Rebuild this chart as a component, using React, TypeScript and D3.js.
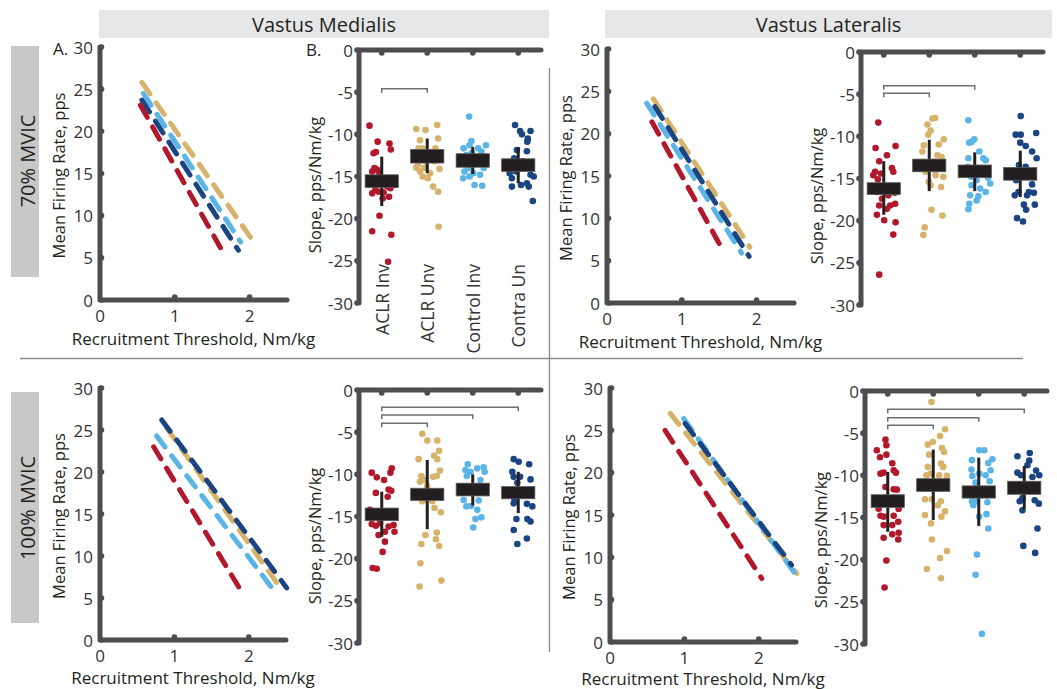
import * as d3 from "d3";

const FONT = "'Open Sans', 'DejaVu Sans', sans-serif";
const AXIS = "#4d4d4f";
const TXT = "#333333";
const INK = "#231f20";

const GROUPS = ["ACLR Inv", "ACLR Unv", "Control Inv", "Contra Un"];
const COLORS = ["#b2182b", "#d6b26b", "#5ab4e6", "#1a4482"];
const DRAW_ORDER = [1, 2, 3, 0];

const RT_TICKS = [0, 1, 2];
const RATE_TICKS = [0, 5, 10, 15, 20, 25, 30];
const SLOPE_TICKS = [0, -5, -10, -15, -20, -25, -30];

// regression lines per group: [x start, y start, x end, y end]
const vm70Lines = [[0.54, 23.1, 1.61, 6.2], [0.56, 25.8, 2.03, 7.2], [0.58, 24.5, 1.88, 6.9], [0.56, 23.7, 1.85, 5.9]];
const vl70Lines = [[0.6, 21.4, 1.57, 5.9], [0.62, 24.1, 1.91, 6.6], [0.53, 23.6, 1.8, 5.9], [0.64, 23.2, 1.9, 5.5]];
const vm100Lines = [[0.72, 23.0, 1.9, 5.8], [0.9, 25.2, 2.45, 5.9], [0.76, 24.3, 2.38, 5.4], [0.83, 26.2, 2.51, 6.2]];
const vl100Lines = [[0.74, 25.0, 2.04, 7.5], [0.81, 27.0, 2.51, 8.1], [0.99, 26.4, 2.51, 7.8], [1.01, 25.8, 2.44, 9.1]];

// individual slopes: [jitter offset, slope]
const vm70Dots = [
  [[-0.27, -8.97], [-0.09, -10.87], [0.17, -11.1], [0.2, -11.8], [-0.18, -12.25], [-0.13, -12.1], [-0.16, -14.0], [-0.21, -14.4], [-0.1, -14.2], [-0.25, -15.2], [-0.18, -15.6], [-0.29, -15.8], [0.23, -15.2], [0.27, -16.0], [-0.21, -17.0], [-0.07, -16.8], [0.04, -16.9], [0.16, -17.4], [0.02, -17.6], [-0.05, -19.65], [-0.21, -21.5], [0.21, -21.9], [0.14, -25.1], [0.12, -16.2], [-0.14, -16.6], [0.19, -16.4], [0.05, -15.5], [-0.05, -14.6]],
  [[-0.24, -9.37], [-0.04, -9.5], [0.22, -8.9], [0.24, -10.5], [-0.16, -10.7], [-0.19, -11.66], [-0.1, -11.66], [0.18, -11.66], [-0.21, -13.6], [-0.24, -13.95], [-0.07, -14.0], [-0.1, -15.0], [0.01, -15.2], [0.27, -14.1], [0.13, -16.2], [0.24, -16.8], [0.25, -20.95], [-0.14, -12.85], [0.08, -12.1], [0.16, -13.2], [-0.03, -13.2], [-0.16, -14.4], [0.06, -14.6]],
  [[-0.08, -7.9], [-0.03, -10.8], [-0.07, -11.3], [0.29, -11.3], [-0.2, -11.66], [0.12, -11.66], [0.19, -12.05], [-0.14, -12.45], [-0.25, -13.4], [0.24, -14.0], [-0.21, -15.2], [-0.07, -15.0], [0.16, -14.8], [-0.18, -14.4], [0.04, -16.0], [0.21, -16.1], [0.01, -14.6], [-0.1, -14.0], [0.08, -12.8], [-0.02, -12.2]],
  [[-0.07, -8.9], [0.04, -9.6], [0.27, -9.6], [0.08, -10.0], [0.21, -10.5], [0.2, -10.87], [-0.03, -11.86], [0.19, -12.0], [-0.09, -12.85], [-0.18, -13.6], [-0.19, -14.6], [-0.14, -15.2], [0.27, -14.8], [0.34, -15.0], [0.06, -16.0], [-0.14, -16.2], [0.23, -16.2], [0.19, -15.8], [0.32, -17.9], [-0.05, -14.4], [0.1, -13.2]],
];
const vl70Dots = [
  [[-0.12, -8.37], [-0.18, -11.38], [0.26, -11.14], [0.07, -12.25], [-0.1, -12.96], [0.18, -13.75], [-0.19, -14.2], [-0.23, -14.6], [-0.06, -14.4], [0.21, -14.2], [-0.13, -15.1], [-0.15, -16.6], [0.24, -16.7], [-0.1, -18.2], [0.14, -18.2], [0.25, -18.0], [-0.15, -19.3], [0.01, -19.95], [0.26, -20.2], [0.21, -21.65], [-0.1, -26.4], [0.07, -18.6], [0.1, -17.0], [-0.04, -17.4]],
  [[0.13, -7.82], [0.07, -7.9], [-0.04, -8.6], [0.03, -9.3], [-0.02, -9.8], [0.32, -10.35], [0.21, -10.98], [-0.12, -11.06], [-0.15, -11.8], [0.18, -12.25], [0.27, -12.45], [-0.1, -13.6], [-0.08, -14.2], [0.14, -14.6], [0.31, -14.8], [-0.01, -15.4], [0.03, -15.8], [0.26, -16.0], [0.05, -18.7], [0.29, -19.4], [-0.1, -20.8], [-0.13, -21.7], [0.1, -13.0]],
  [[-0.14, -8.1], [-0.07, -10.67], [-0.01, -10.35], [-0.12, -10.75], [0.1, -11.8], [0.19, -12.6], [0.24, -12.85], [-0.14, -12.6], [-0.15, -13.6], [-0.08, -14.8], [0.29, -14.9], [0.34, -15.6], [0.04, -15.2], [-0.07, -15.8], [0.24, -16.6], [-0.1, -17.0], [0.08, -17.1], [0.04, -17.6], [-0.12, -18.0], [-0.14, -18.65], [0.12, -16.2]],
  [[0.01, -7.6], [-0.1, -9.8], [0.01, -9.8], [0.35, -9.6], [0.0, -10.75], [0.12, -11.14], [0.26, -11.8], [0.36, -12.6], [-0.03, -13.4], [0.12, -13.6], [-0.14, -14.2], [-0.09, -15.2], [0.26, -15.7], [-0.04, -16.6], [0.3, -16.7], [0.19, -16.6], [0.08, -18.1], [0.32, -18.1], [0.13, -18.7], [-0.07, -19.7], [0.06, -20.1], [0.15, -17.0], [-0.12, -17.0]],
];
const vm100Dots = [
  [[-0.22, -9.8], [-0.11, -10.36], [0.05, -10.67], [0.22, -9.29], [0.19, -9.8], [-0.13, -12.2], [0.15, -11.8], [0.21, -11.94], [0.13, -12.65], [-0.19, -15.0], [-0.13, -16.1], [-0.22, -15.9], [-0.07, -17.2], [0.07, -16.8], [0.26, -16.0], [0.28, -16.8], [0.07, -17.98], [0.02, -19.2], [-0.2, -21.1], [-0.11, -21.2], [0.15, -16.2], [-0.04, -15.8], [-0.26, -14.2]],
  [[-0.11, -5.2], [0.0, -6.0], [0.22, -6.0], [0.26, -7.2], [0.15, -7.8], [-0.19, -8.2], [0.22, -8.2], [0.28, -9.56], [-0.13, -10.2], [-0.16, -10.87], [0.13, -10.3], [0.21, -10.2], [-0.04, -10.67], [0.0, -11.4], [-0.07, -13.0], [0.16, -14.0], [0.3, -14.5], [-0.11, -13.2], [-0.04, -17.2], [0.21, -16.9], [0.19, -17.7], [-0.13, -18.26], [0.26, -18.5], [-0.15, -20.55], [0.31, -22.6], [-0.17, -23.3], [0.11, -13.2]],
  [[-0.11, -8.8], [0.1, -9.29], [0.24, -9.17], [-0.16, -9.48], [-0.05, -9.7], [-0.13, -10.2], [0.26, -9.7], [0.17, -10.67], [0.02, -11.4], [-0.14, -13.8], [-0.04, -13.75], [0.13, -13.1], [0.1, -14.2], [0.19, -15.1], [0.06, -15.3], [0.01, -16.3], [-0.2, -13.04]],
  [[-0.1, -8.2], [0.01, -8.5], [0.24, -8.8], [-0.13, -9.7], [-0.1, -10.3], [0.04, -10.3], [0.27, -10.6], [-0.02, -11.0], [-0.08, -12.96], [-0.1, -13.44], [0.19, -13.5], [0.31, -13.8], [-0.04, -15.3], [0.2, -15.3], [0.27, -15.6], [-0.1, -16.6], [0.19, -17.6], [-0.02, -18.26]],
];
const vl100Dots = [
  [[-0.05, -5.77], [-0.03, -6.44], [-0.24, -7.03], [-0.17, -7.86], [-0.03, -7.55], [0.1, -8.57], [-0.16, -9.8], [-0.09, -9.68], [0.13, -9.4], [0.18, -9.68], [-0.05, -11.38], [0.13, -11.66], [0.2, -11.7], [-0.2, -13.95], [0.24, -14.0], [-0.16, -14.8], [-0.09, -14.9], [0.13, -14.8], [0.23, -15.5], [-0.09, -15.9], [0.1, -15.9], [0.24, -16.8], [0.1, -17.0], [-0.09, -17.4], [0.23, -17.6], [-0.03, -20.1], [-0.07, -23.3]],
  [[-0.04, -1.3], [0.26, -4.54], [0.15, -5.33], [-0.01, -6.04], [-0.12, -6.36], [0.19, -6.75], [0.24, -7.23], [-0.09, -7.55], [0.17, -8.6], [0.22, -9.0], [-0.12, -9.0], [-0.05, -9.8], [0.3, -10.07], [-0.15, -9.99], [0.13, -9.99], [-0.18, -12.84], [-0.03, -12.84], [0.17, -13.08], [0.1, -13.55], [0.26, -14.26], [-0.18, -14.7], [0.18, -14.9], [-0.05, -15.7], [-0.03, -17.6], [0.3, -18.97], [0.15, -19.8], [-0.14, -21.1], [0.17, -22.2]],
  [[0.01, -7.03], [0.12, -7.03], [-0.15, -8.2], [0.3, -8.1], [0.21, -8.53], [-0.16, -9.3], [0.26, -9.4], [0.01, -9.8], [-0.14, -10.07], [0.15, -9.99], [0.24, -10.7], [-0.07, -10.87], [-0.15, -13.08], [-0.12, -13.55], [-0.07, -13.08], [0.19, -13.2], [0.17, -14.6], [0.01, -14.9], [0.21, -16.3], [-0.04, -19.4], [-0.07, -21.8], [0.07, -28.8]],
  [[0.12, -7.35], [-0.15, -7.74], [0.11, -8.26], [0.07, -8.8], [0.26, -9.44], [-0.15, -9.68], [-0.07, -9.99], [0.33, -9.99], [0.18, -10.2], [-0.04, -12.68], [-0.1, -13.08], [0.23, -12.96], [0.32, -13.36], [-0.04, -14.15], [0.29, -16.3], [-0.02, -18.37], [0.24, -19.2]],
];

// box = [low, high], whisker = [low, high]
const vm70Box = [[-16.3, -14.8], [-13.4, -11.8], [-13.9, -12.3], [-14.4, -12.9]];
const vm70Whisk = [[-18.5, -12.65], [-14.6, -10.5], [-14.7, -11.5], [-15.8, -11.5]];
const vl70Box = [[-16.9, -15.5], [-14.2, -12.7], [-14.9, -13.4], [-15.2, -13.7]];
const vl70Whisk = [[-19.3, -12.95], [-16.5, -10.4], [-16.5, -11.9], [-17.2, -11.7]];
const vm100Box = [[-15.5, -14.0], [-13.1, -11.65], [-12.56, -11.05], [-12.9, -11.45]];
const vm100Whisk = [[-17.4, -12.05], [-16.5, -8.3], [-13.7, -10.0], [-14.6, -9.7]];
const vl100Box = [[-13.8, -12.3], [-11.9, -10.4], [-12.7, -11.25], [-12.25, -10.7]];
const vl100Whisk = [[-16.7, -9.6], [-15.3, -6.95], [-16.0, -7.9], [-14.0, -8.9]];

// significance brackets: [from group, to group, level]
const vm70Brackets = [[1, 2, -4.6]];
const vl70Brackets = [[1, 2, -4.9], [1, 3, -4.0]];
const vm100Brackets = [[1, 2, -3.95], [1, 3, -2.96], [1, 4, -2.05]];
const vl100Brackets = [[1, 2, -4.06], [1, 3, -3.16], [1, 4, -2.17]];

type Frame = { l: number; r: number; t: number; b: number };

function LinePanel({ f, lines, xlabDy = 38 }: { f: Frame; lines: number[][]; xlabDy?: number }) {
  const x = d3.scaleLinear().domain([0, 2.5]).range([f.l, f.r]);
  const y = d3.scaleLinear().domain([0, 30]).range([f.b, f.t]);
  const line = d3.line();
  return (
    <g>
      {DRAW_ORDER.map((i) => {
        const [x0, y0, x1, y1] = lines[i];
        return (
          <path key={i} d={line([[x(x0), y(y0)], [x(x1), y(y1)]]) || ""}
            fill="none" stroke={COLORS[i]} strokeWidth={5} strokeDasharray="14 11" strokeLinecap="round" />
        );
      })}
      <path d={`M${x(0)},${y(30)}V${y(0)}H${x(2.5)}`} fill="none" stroke={AXIS}
        strokeWidth={5} strokeLinecap="round" strokeLinejoin="round" />
      {RATE_TICKS.map((v) => <circle key={v} cx={x(0) + 1.5} cy={y(v)} r={2.8} fill={AXIS} />)}
      {RT_TICKS.filter((v) => v > 0).map((v) => <circle key={v} cx={x(v)} cy={y(0) - 3} r={2.8} fill={AXIS} />)}
      {RATE_TICKS.map((v) => (
        <text key={v} x={f.l - 7} y={y(v)} textAnchor="end" dominantBaseline="central" fontSize={17} fill={TXT}>{v}</text>
      ))}
      {RT_TICKS.map((v) => (
        <text key={v} x={x(v)} y={f.b + 15} textAnchor="middle" dominantBaseline="central" fontSize={17} fill={TXT}>{v}</text>
      ))}
      <text transform={`translate(${f.l - 42},${(f.t + f.b) / 2 + 2}) rotate(-90)`} textAnchor="middle"
        dominantBaseline="central" fontSize={16.5} fill={INK}>Mean Firing Rate, pps</text>
      <text x={(f.l + f.r) / 2} y={f.b + xlabDy} textAnchor="middle" dominantBaseline="central" fontSize={17} fill={INK}>
        Recruitment Threshold, Nm/kg
      </text>
    </g>
  );
}

function SlopePanel({ f, dots, box, whisk, brackets, labelY, cats }: {
  f: Frame; dots: number[][][]; box: number[][]; whisk: number[][]; brackets: number[][]; labelY: number; cats?: boolean;
}) {
  const x = d3.scaleLinear().domain([0.5, 4.5]).range([f.l, f.r]);
  const y = d3.scaleLinear().domain([-30, 0]).range([f.b, f.t]);
  const half = x(1.365) - x(1);
  return (
    <g>
      {dots.map((g, i) => g.map(([dx, v], k) => (
        <circle key={`${i}-${k}`} cx={x(i + 1 + dx)} cy={y(v)} r={3.3} fill={COLORS[i]} />
      )))}
      {whisk.map(([lo, hi], i) => (
        <line key={i} x1={x(i + 1)} x2={x(i + 1)} y1={y(lo)} y2={y(hi)} stroke={INK} strokeWidth={3} />
      ))}
      {box.map(([lo, hi], i) => (
        <rect key={i} x={x(i + 1) - half} width={2 * half} y={y(hi)} height={y(lo) - y(hi)}
          fill={INK} stroke="#5a5a5a" strokeWidth={0.8} />
      ))}
      {brackets.map(([a, b, lv], i) => (
        <path key={i} d={`M${x(a)},${y(lv) + 4}V${y(lv)}H${x(b)}V${y(lv) + 4}`} fill="none" stroke="#6d6e71" strokeWidth={1.5} />
      ))}
      <path d={`M${x(4.5)},${y(0)}H${f.l}V${y(-30)}`} fill="none" stroke={AXIS}
        strokeWidth={5} strokeLinecap="round" strokeLinejoin="round" />
      {SLOPE_TICKS.map((v) => <circle key={v} cx={f.l - 2} cy={y(v)} r={2.8} fill={AXIS} />)}
      {GROUPS.map((_, i) => <circle key={i} cx={x(i + 1)} cy={y(0) + 3} r={2.8} fill={AXIS} />)}
      {SLOPE_TICKS.map((v) => (
        <text key={v} x={f.l - 6} y={y(v)} textAnchor="end" dominantBaseline="central" fontSize={17} fill={TXT}>{v}</text>
      ))}
      <text transform={`translate(${f.l - 45},${labelY}) rotate(-90)`} textAnchor="middle"
        dominantBaseline="central" fontSize={16.5} fill={INK}>Slope, pps/Nm/kg</text>
      {cats && GROUPS.map((g, i) => (
        <text key={g} transform={`translate(${x(i + 1)},${f.b - 39}) rotate(-90)`} textAnchor="end"
          dominantBaseline="central" fontSize={17.5} fill={TXT}>{g}</text>
      ))}
    </g>
  );
}

export default function App() {
  return (
    <svg width={1057} height={689} fontFamily={FONT}
      style={{ position: "absolute", left: 0, top: 0, background: "#fff" }}>
      <rect x={99} y={10} width={450} height={28} fill="#e6e7e8" />
      <rect x={605} y={10} width={447} height={28} fill="#e6e7e8" />
      <text x={324} y={24} textAnchor="middle" dominantBaseline="central" fontSize={20} fill={INK}>Vastus Medialis</text>
      <text x={828.5} y={24} textAnchor="middle" dominantBaseline="central" fontSize={20} fill={INK}>Vastus Lateralis</text>

      <rect x={11} y={46} width={28} height={231} fill="#c8c8c8" />
      <rect x={11} y={392} width={28} height={231} fill="#c8c8c8" />
      <text transform="translate(27,161) rotate(-90)" textAnchor="middle" dominantBaseline="central" fontSize={20} fill={INK}>70% MVIC</text>
      <text transform="translate(27,508) rotate(-90)" textAnchor="middle" dominantBaseline="central" fontSize={20} fill={INK}>100% MVIC</text>

      <line x1={20} x2={1023} y1={358.5} y2={358.5} stroke="#8a8a8a" strokeWidth={1.3} />
      <line x1={549.5} x2={549.5} y1={68} y2={652} stroke="#8a8a8a" strokeWidth={1.3} />

      <text x={53} y={48} dominantBaseline="central" fontSize={17} fill={INK}>A.</text>
      <text x={306} y={49} dominantBaseline="central" fontSize={17} fill={INK}>B.</text>

      <LinePanel f={{ l: 100, r: 287, t: 47, b: 300 }} lines={vm70Lines} />
      <SlopePanel f={{ l: 359, r: 541, t: 50, b: 303 }} dots={vm70Dots} box={vm70Box} whisk={vm70Whisk}
        brackets={vm70Brackets} labelY={185} cats />
      <LinePanel f={{ l: 607, r: 794, t: 49, b: 303 }} lines={vl70Lines} />
      <SlopePanel f={{ l: 861, r: 1043, t: 52, b: 305 }} dots={vl70Dots} box={vl70Box} whisk={vl70Whisk}
        brackets={vl70Brackets} labelY={196} />

      <LinePanel f={{ l: 100, r: 286, t: 388, b: 640 }} lines={vm100Lines} xlabDy={37} />
      <SlopePanel f={{ l: 359, r: 541, t: 390, b: 643 }} dots={vm100Dots} box={vm100Box} whisk={vm100Whisk}
        brackets={vm100Brackets} labelY={536} />
      <LinePanel f={{ l: 610, r: 796, t: 388, b: 642 }} lines={vl100Lines} xlabDy={36} />
      <SlopePanel f={{ l: 865, r: 1047, t: 391, b: 644 }} dots={vl100Dots} box={vl100Box} whisk={vl100Whisk}
        brackets={vl100Brackets} labelY={540} />
    </svg>
  );
}
